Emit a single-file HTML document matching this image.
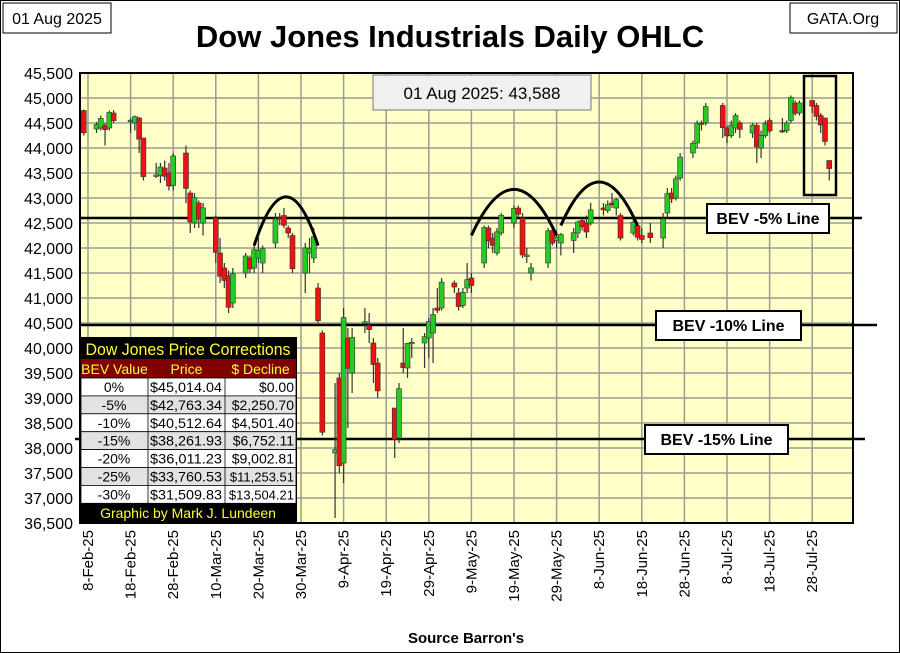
<!DOCTYPE html>
<html><head><meta charset="utf-8"><style>
body{margin:0;background:#fff;}
svg{display:block;font-family:"Liberation Sans",sans-serif;}
</style></head><body>
<svg id="c" width="900" height="653" viewBox="0 0 900 653">
<rect x="0.5" y="0.5" width="899" height="652" fill="#fff" stroke="#000"/>
<rect x="3" y="3" width="108" height="30" fill="#fff" stroke="#000"/>
<text x="57" y="24" font-size="16" text-anchor="middle">01 Aug 2025</text>
<rect x="790" y="3" width="107" height="30" fill="#fff" stroke="#000"/>
<text x="843" y="24" font-size="16" text-anchor="middle">GATA.Org</text>
<text x="450" y="47" font-size="31" font-weight="bold" text-anchor="middle">Dow Jones Industrials Daily OHLC</text>
<rect x="80" y="73" width="773" height="450" fill="#ffffc8"/>
<g id="grid"></g><g id="ylab"></g><g id="xlab"></g><g id="bev"></g><g id="candles"></g><g id="deco"></g>
<text x="466" y="643" font-size="15" font-weight="bold" text-anchor="middle">Source Barron's</text>
</svg>
<script>
const dates=["2025-02-07","2025-02-10","2025-02-11","2025-02-12","2025-02-13","2025-02-14","2025-02-18","2025-02-19","2025-02-20","2025-02-21","2025-02-24","2025-02-25","2025-02-26","2025-02-27","2025-02-28","2025-03-03","2025-03-04","2025-03-05","2025-03-06","2025-03-07","2025-03-10","2025-03-11","2025-03-12","2025-03-13","2025-03-14","2025-03-17","2025-03-18","2025-03-19","2025-03-20","2025-03-21","2025-03-24","2025-03-25","2025-03-26","2025-03-27","2025-03-28","2025-03-31","2025-04-01","2025-04-02","2025-04-03","2025-04-04","2025-04-07","2025-04-08","2025-04-09","2025-04-10","2025-04-11","2025-04-14","2025-04-15","2025-04-16","2025-04-17","2025-04-21","2025-04-22","2025-04-23","2025-04-24","2025-04-25","2025-04-28","2025-04-29","2025-04-30","2025-05-01","2025-05-02","2025-05-05","2025-05-06","2025-05-07","2025-05-08","2025-05-09","2025-05-12","2025-05-13","2025-05-14","2025-05-15","2025-05-16","2025-05-19","2025-05-20","2025-05-21","2025-05-22","2025-05-23","2025-05-27","2025-05-28","2025-05-29","2025-05-30","2025-06-02","2025-06-03","2025-06-04","2025-06-05","2025-06-06","2025-06-09","2025-06-10","2025-06-11","2025-06-12","2025-06-13","2025-06-16","2025-06-17","2025-06-18","2025-06-20","2025-06-23","2025-06-24","2025-06-25","2025-06-26","2025-06-27","2025-06-30","2025-07-01","2025-07-02","2025-07-03","2025-07-07","2025-07-08","2025-07-09","2025-07-10","2025-07-11","2025-07-14","2025-07-15","2025-07-16","2025-07-17","2025-07-18","2025-07-21","2025-07-22","2025-07-23","2025-07-24","2025-07-25","2025-07-28","2025-07-29","2025-07-30","2025-07-31","2025-08-01"];
const opens=[44750,44380,44400,44450,44400,44700,44550,44500,44600,44200,43450,43450,43600,43500,43250,43900,43100,42500,42900,42500,42600,41900,41600,41450,40900,41500,41800,41600,41800,41700,42100,42600,42650,42400,42250,41500,41900,41800,41200,40300,37900,39400,37700,40200,39500,40500,40450,40100,39700,38800,38200,39700,39600,40100,40100,40200,40300,40800,40800,41300,41100,40850,41200,41400,41700,42400,42200,41900,42300,42500,42800,42600,41850,41500,41700,42350,42150,42100,42150,42300,42550,42500,42500,42800,42750,42900,42800,42650,42300,42450,42250,42300,42200,42700,43100,43000,43400,43900,44100,44500,44500,44850,44400,44250,44400,44500,44300,44450,44000,44250,44550,44350,44350,44550,44900,44700,44950,44850,44650,44600,43750];
const highs=[44770,44520,44650,44500,44750,44760,44600,44650,44620,44200,43700,43700,43750,43700,43900,44050,43150,43100,42950,42900,42650,42200,41700,41550,41600,41900,41850,42100,42200,42050,42700,42700,42800,42450,42300,42100,42200,42400,41300,40350,39300,39500,40800,40400,40400,40800,40700,40200,39800,38800,39300,40400,40100,40200,40300,40600,40800,41200,41400,41350,41200,41200,41700,41500,42450,42450,42300,42400,42700,42850,42850,42700,42000,41700,42400,42400,42350,42300,42400,42550,42600,42650,42900,42900,42950,43100,43000,42700,42600,42500,42400,42500,42700,43200,43200,43450,43900,44150,44550,44550,44900,44900,44450,44550,44700,44550,44500,44500,44350,44550,44600,44600,44550,45050,44950,44950,44950,44900,44700,44600,43750];
const lows=[44250,44300,44350,44050,44350,44500,44300,44350,43900,43350,43400,43300,43350,43150,43150,42900,42300,42400,42400,42250,41700,41300,41200,40700,40800,41400,41500,41500,41700,41500,42000,42450,42400,42200,41500,41100,41500,41700,40500,38250,36600,37500,37300,38400,39100,40300,40100,39300,39000,37800,38100,39500,39400,39800,39600,39800,39700,40700,40750,41100,40750,40800,41100,41100,41600,42000,41900,41850,42250,42400,42600,41800,41700,41350,41600,42050,42000,41850,41900,42200,42350,42200,42450,42650,42700,42800,42650,42150,42250,42150,42100,42100,42000,42600,42900,42950,43350,43800,44000,44350,44450,44200,44100,44200,44300,44200,44200,43700,43800,44200,44300,44300,44300,44500,44650,44650,44700,44550,44300,44050,43350];
const closes=[44303,44470,44593,44368,44711,44546,44556,44628,44177,43428,43461,43621,43433,43239,43841,43191,42521,43006,42579,42802,41912,41433,41350,40813,41488,41841,41582,41965,41953,41985,42583,42588,42455,42300,41584,42002,41990,42226,40546,38315,37966,37646,40609,39594,40213,40525,40369,39669,39142,38170,39187,39607,40093,40114,40228,40528,40669,40753,41317,41219,40829,41114,41368,41249,42410,42140,42051,42323,42655,42792,42677,41860,41859,41603,42343,42098,42216,42270,42305,42520,42428,42320,42763,42762,42867,42866,42968,42198,42515,42215,42172,42207,42582,43089,42982,43386,43819,44095,44495,44484,44829,44406,44241,44458,44651,44371,44460,44023,44254,44484,44342,44323,44502,45010,44694,44902,44838,44633,44461,44131,43588];
const yTicks=[45500,45000,44500,44000,43500,43000,42500,42000,41500,41000,40500,40000,39500,39000,38500,38000,37500,37000,36500];
const xTickLabels=["8-Feb-25","18-Feb-25","28-Feb-25","10-Mar-25","20-Mar-25","30-Mar-25","9-Apr-25","19-Apr-25","29-Apr-25","9-May-25","19-May-25","29-May-25","8-Jun-25","18-Jun-25","28-Jun-25","8-Jul-25","18-Jul-25","28-Jul-25"];
const bevNames=["BEV -5% Line","BEV -10% Line","BEV -15% Line"];
const bevLevels=[42600,40460,38180];
const tblBev=["0%","-5%","-10%","-15%","-20%","-25%","-30%"];
const tblPrice=["$45,014.04","$42,763.34","$40,512.64","$38,261.93","$36,011.23","$33,760.53","$31,509.83"];
const tblDecl=["$0.00","$2,250.70","$4,501.40","$6,752.11","$9,002.81","$11,253.51","$13,504.21"];

const NS="http://www.w3.org/2000/svg";
const T0=Date.UTC(2025,1,8);
function dayNum(s){const p=s.split("-");return (Date.UTC(+p[0],+p[1]-1,+p[2])-T0)/86400000;}
function X(d){return 88+d*4.26;}
function Y(v){return 73+(45500-v)*0.05;}
function el(tag,attrs,parent,txt){const e=document.createElementNS(NS,tag);for(const k in attrs)e.setAttribute(k,attrs[k]);if(txt!==undefined)e.textContent=txt;parent.appendChild(e);return e;}
const G=id=>document.getElementById(id);

yTicks.forEach((v,i)=>{
  const l=el("line",{x1:80,x2:853,y1:Y(v),y2:Y(v),stroke:"#9c9c94","stroke-width":1.5},G("grid"));
  
  
  const t=el("text",{x:73,y:Y(v)+6,"font-size":16,"text-anchor":"end"},G("ylab"),v.toLocaleString("en-US"));
  
  
});
xTickLabels.forEach((s,i)=>{
  const x=X(i*10);
  const l=el("line",{x1:x,x2:x,y1:73,y2:523,stroke:"#9c9c94","stroke-width":1.5},G("grid"));
  
  
  const t=el("text",{x:0,y:0,"font-size":15,"text-anchor":"end",transform:`translate(${x+5},530) rotate(-90)`},G("xlab"),s);
  
  
});
const fr=el("rect",{x:80,y:73,width:773,height:450,fill:"none",stroke:"#000","stroke-width":2},G("grid"));



const bevSpan=[[80,862],[80,877],[75,865]];
const bevBox=[[707,829],[656,801],[645,788]];
bevLevels.forEach((v,i)=>{
  const y=Y(v);
  const l=el("line",{x1:bevSpan[i][0],x2:bevSpan[i][1],y1:y,y2:y,stroke:"#000","stroke-width":2.5},G("bev"));
  
  
  const r=el("rect",{x:bevBox[i][0],y:y-14,width:bevBox[i][1]-bevBox[i][0],height:29,fill:"#fff",stroke:"#000","stroke-width":2},G("bev"));
  
  
  const t=el("text",{x:(bevBox[i][0]+bevBox[i][1])/2,y:y+6,"font-size":16,"font-weight":"bold","text-anchor":"middle"},G("bev"),bevNames[i]);
  
  
});

dates.forEach((d,i)=>{
  const x=X(dayNum(d)),o=opens[i],h=highs[i],l=lows[i],c=closes[i];
  const up=c>=o;const col=up?"#22cc22":"#ee1111";
  const g=el("g",{},G("candles"));
  
  
  el("line",{x1:x,x2:x,y1:Y(h),y2:Y(l),stroke:"#333","stroke-width":1.2},g);
  const top=Y(Math.max(o,c)),bot=Y(Math.min(o,c));
  el("rect",{x:x-2.5,y:top,width:5,height:Math.max(bot-top,1.5),fill:col,stroke:"#333","stroke-width":0.6},g);
});

const D=G("deco");
[["2025-03-19","2025-04-03",42050,43000],["2025-05-09","2025-05-29",42250,43150],["2025-05-30","2025-06-17",42450,43300]].forEach(a=>{
  const x1=X(dayNum(a[0])),x2=X(dayNum(a[1])),yb=Y(a[2]),yt=Y(a[3]);
  const cy=2*yt-yb;
  const p=el("path",{d:`M${x1},${yb} Q${(x1+x2)/2},${cy-(yb-yt)*0.05} ${x2},${yb}`,fill:"none",stroke:"#000","stroke-width":3},D);
  
  
});
const hb=el("rect",{x:804,y:76,width:32,height:119,fill:"none",stroke:"#000","stroke-width":2.5},D);


const vb=el("rect",{x:373,y:75,width:218,height:35,fill:"#f0f0f0",stroke:"#777","stroke-width":1},D);


const vt=el("text",{x:482,y:99,"font-size":17,"text-anchor":"middle"},D,"01 Aug 2025: "+closes[closes.length-1].toLocaleString("en-US"));



const tb=el("g",{},D);


el("rect",{x:80,y:337,width:217,height:186,fill:"#000"},tb);
el("text",{x:188,y:355,"font-size":17,fill:"#ffff33","text-anchor":"middle",textLength:205,lengthAdjust:"spacingAndGlyphs"},tb,"Dow Jones Price Corrections");
el("rect",{x:81,y:359,width:215,height:19,fill:"#800000"},tb);
const cx=[[81,148],[148,225],[225,296]];
["BEV Value","Price","$ Decline"].forEach((h,j)=>{el("text",{x:(cx[j][0]+cx[j][1])/2,y:374,"font-size":14,fill:"#ffff33","text-anchor":"middle"},tb,h);});
tblBev.forEach((b,i)=>{
  const y=378+i*17.9;
  el("rect",{x:81,y:y,width:215,height:17.9,fill:i%2?"#e2e2e2":"#fff",stroke:"#000","stroke-width":0.8},tb);
  [148,225].forEach(x=>el("line",{x1:x,x2:x,y1:y,y2:y+17.9,stroke:"#000","stroke-width":0.8},tb));
  el("text",{x:114,y:y+14,"font-size":14,"text-anchor":"middle"},tb,b);
  el("text",{x:222,y:y+14,"font-size":14,"text-anchor":"end",textLength:72,lengthAdjust:"spacingAndGlyphs"},tb,tblPrice[i]);
  el("text",{x:294,y:y+14,"font-size":14,"text-anchor":"end"},tb,tblDecl[i]).setAttribute("style","font-size:"+(tblDecl[i].length>9?"13px":"14px"));
});
el("text",{x:188,y:518,"font-size":14,fill:"#ffff33","text-anchor":"middle"},tb,"Graphic by Mark J. Lundeen");
</script>
</body></html>
